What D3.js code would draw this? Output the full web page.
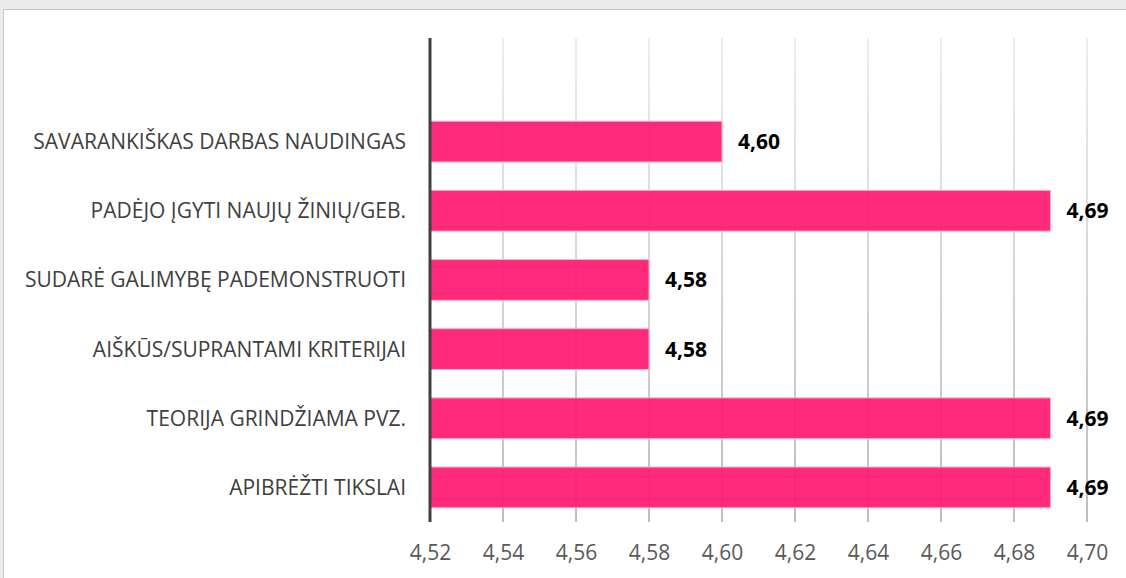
<!DOCTYPE html>
<html>
<head>
<meta charset="utf-8">
<script src="https://cdn.jsdelivr.net/npm/d3@7"></script>
<style>
  body { margin: 0; background: #ebebeb; }
  svg { display: block; }
</style>
</head>
<body>
<svg id="chart" width="1126" height="578"></svg>
<script>
// chart data
var categories = [
  'SAVARANKIŠKAS DARBAS NAUDINGAS',
  'PADĖJO ĮGYTI NAUJŲ ŽINIŲ/GEB.',
  'SUDARĖ GALIMYBĘ PADEMONSTRUOTI',
  'AIŠKŪS/SUPRANTAMI KRITERIJAI',
  'TEORIJA GRINDŽIAMA PVZ.',
  'APIBRĖŽTI TIKSLAI'
];
var values = [4.60, 4.69, 4.58, 4.58, 4.69, 4.69];
var ticks = [4.52, 4.54, 4.56, 4.58, 4.60, 4.62, 4.64, 4.66, 4.68, 4.70];

var plotLeft = 430, plotRight = 1087, plotTop = 38, plotBottom = 522;
var fmt = function(d) { return d3.format('.2f')(d).replace('.', ','); };

var svg = d3.select('#chart');

// white panel with thin border
svg.append('rect')
  .attr('x', 3.5).attr('y', 9.5)
  .attr('width', 1140).attr('height', 600)
  .attr('fill', '#fff').attr('stroke', '#c6c6c6');

var x = d3.scaleLinear().domain([4.52, 4.70]).range([plotLeft, plotRight]);
var y = d3.scaleBand().domain(categories)
  .range([plotTop + 69, plotBottom]).paddingInner(0.41).paddingOuter(0.205);

// gridlines fade from light at top to darker at bottom
var grad = svg.append('defs').append('linearGradient')
  .attr('id', 'gridfade').attr('gradientUnits', 'userSpaceOnUse')
  .attr('x1', 0).attr('y1', plotTop).attr('x2', 0).attr('y2', plotBottom);
grad.append('stop').attr('offset', '0%').attr('stop-color', '#e4e4e4');
grad.append('stop').attr('offset', '100%').attr('stop-color', '#9a9a9a');

svg.append('g').selectAll('line')
  .data(ticks.slice(1))
  .join('line')
  .attr('x1', function(d) { return x(d); })
  .attr('x2', function(d) { return x(d) + 0.01; })
  .attr('y1', plotTop).attr('y2', plotBottom)
  .attr('stroke', 'url(#gridfade)').attr('stroke-width', 1.3);

// bars
svg.append('g').selectAll('rect')
  .data(values)
  .join('rect')
  .attr('x', x(4.52))
  .attr('y', function(d, i) { return y(categories[i]); })
  .attr('width', function(d) { return x(d) - x(4.52); })
  .attr('height', y.bandwidth())
  .attr('fill', '#ff1a72').attr('fill-opacity', 0.93)
  .attr('stroke', '#ffb3cf').attr('stroke-width', 1);

// value labels
svg.append('g').selectAll('text')
  .data(values)
  .join('text')
  .attr('x', function(d) { return x(d) + 16; })
  .attr('y', function(d, i) { return y(categories[i]) + y.bandwidth() / 2; })
  .attr('dy', '0.36em')
  .attr('font-family', 'Open Sans, sans-serif')
  .attr('font-size', 21).attr('font-weight', 'bold')
  .attr('fill', '#000')
  .text(fmt);

// category labels
svg.append('g').selectAll('text')
  .data(categories)
  .join('text')
  .attr('x', plotLeft - 24)
  .attr('y', function(d) { return y(d) + y.bandwidth() / 2; })
  .attr('dy', '0.36em')
  .attr('text-anchor', 'end')
  .attr('font-family', 'Open Sans, sans-serif')
  .attr('font-size', 21)
  .attr('fill', '#404040')
  .text(function(d) { return d; });

// bottom tick labels
var xAxis = d3.axisBottom(x).tickValues(ticks).tickFormat(fmt).tickSize(0).tickPadding(23);
var ax = svg.append('g').attr('transform', 'translate(0,' + plotBottom + ')').call(xAxis);
ax.select('.domain').remove();
ax.selectAll('text')
  .attr('font-family', 'Open Sans, sans-serif')
  .attr('font-size', 21)
  .attr('fill', '#595959');

// vertical axis line
svg.append('line')
  .attr('x1', plotLeft).attr('x2', plotLeft)
  .attr('y1', plotTop).attr('y2', plotBottom)
  .attr('stroke', '#404040').attr('stroke-width', 3);
</script>
</body>
</html>
